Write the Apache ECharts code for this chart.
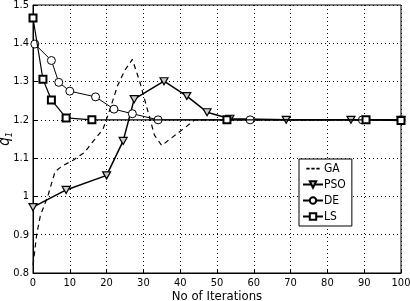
<!DOCTYPE html>
<html>
<head>
<meta charset="utf-8">
<script src="https://cdn.jsdelivr.net/npm/echarts@6/dist/echarts.min.js"></script>
<style>
  html, body { margin: 0; padding: 0; background: #fff; }
  #chart { width: 410px; height: 301px; }
</style>
</head>
<body>
<div id="chart"></div>
<script>
// 数据
const gaX = [0, 1, 2, 4, 6, 8, 11, 14, 16, 19, 21, 23, 25, 27, 29, 31, 33, 35, 37, 40, 44, 100];
const gaY = [0.82, 0.9, 0.95, 1.0, 1.065, 1.08, 1.095, 1.115, 1.14, 1.175, 1.23, 1.29, 1.33, 1.358, 1.3, 1.23, 1.16, 1.133, 1.148, 1.17, 1.2, 1.2];
const psoX = [0, 9, 20, 24.5, 27.5, 35.6, 41.8, 47.3, 53.5, 68.8, 86.4, 100];
const psoY = [0.972, 1.017, 1.055, 1.145, 1.254, 1.301, 1.262, 1.22, 1.203, 1.2, 1.2, 1.2];
const deX = [0.5, 5, 7, 10, 17, 22, 27, 34, 59, 89.5, 100];
const deY = [1.398, 1.355, 1.298, 1.275, 1.26, 1.228, 1.216, 1.2, 1.2, 1.2, 1.2];
const lsX = [0, 2.7, 5, 9, 16, 52.7, 90.5, 100];
const lsY = [1.466, 1.306, 1.252, 1.205, 1.2, 1.2, 1.2, 1.198];

function pairs(xs, ys) {
  let out = [];
  for (var i = 0; i < xs.length; i++) {
    out.push([xs[i], ys[i]]);
  }
  return out;
}

const font = "'DejaVu Sans Condensed', 'Liberation Sans Narrow', 'Liberation Sans', sans-serif";
const downTri = "path://M0,0 L10,0 L5,9 Z";
const dashIcon = "path://M0,5h5v2.5h-5z M7.5,5h5v2.5h-5z M15,5h5v2.5h-5z M0,0h0.01v0.01h-0.01z M0,12h0.01v0.01h-0.01z";

let myChart = echarts.init(document.getElementById("chart"));
let option = {
  animation: false,
  textStyle: { fontFamily: font },
  grid: {
    left: 33,
    right: 9,
    top: 5,
    bottom: 28,
    outerBoundsMode: "none",
    containLabel: false,
    show: true,
    borderColor: "#000",
    borderWidth: 1
  },
  legend: {
    orient: "vertical",
    left: 299,
    top: 159,
    backgroundColor: "#fff",
    borderColor: "#000",
    borderWidth: 1,
    padding: [3, 6, 3, 3],
    itemGap: 3,
    itemWidth: 20,
    itemHeight: 8,
    textStyle: { fontFamily: font, fontSize: 12, lineHeight: 13, color: "#000", padding: [0, 0, 0, -4] },
    data: [{ name: "GA", icon: dashIcon, itemStyle: { color: "#000" } }, "PSO", "DE", "LS"]
  },
  xAxis: {
    type: "value",
    min: 0,
    max: 100,
    interval: 10,
    name: "No of Iterations",
    nameLocation: "middle",
    nameGap: 17,
    nameMoveOverlap: false,
    nameTextStyle: { fontFamily: font, fontSize: 13, color: "#000" },
    axisLine: { lineStyle: { color: "#000" } },
    axisTick: { inside: true, length: 4, lineStyle: { color: "#000" } },
    axisLabel: { color: "#000", fontSize: 11, margin: 5 },
    splitLine: { show: true, lineStyle: { color: "#000", type: [1, 3], width: 1 } }
  },
  yAxis: {
    type: "value",
    min: 0.8,
    max: 1.5,
    interval: 0.1,
    name: "{q|q}{s|1}",
    nameLocation: "middle",
    nameRotate: 90,
    nameGap: 19,
    nameMoveOverlap: false,
    nameTextStyle: {
      color: "#000",
      rich: {
        q: { fontFamily: font, fontSize: 15, fontStyle: "italic", color: "#000" },
        s: { fontFamily: font, fontSize: 9, fontStyle: "italic", color: "#000", padding: [8, 0, 0, 0] }
      }
    },
    axisLine: { lineStyle: { color: "#000" } },
    axisTick: { inside: true, length: 4, lineStyle: { color: "#000" } },
    axisLabel: {
      color: "#000",
      fontSize: 11,
      margin: 4,
      formatter: function (v) {
        return parseFloat(v.toFixed(1)).toString();
      }
    },
    splitLine: { show: true, lineStyle: { color: "#000", type: [1, 3], width: 1 } }
  },
  series: [
    {
      name: "GA",
      type: "line",
      data: pairs(gaX, gaY),
      showSymbol: false,
      symbol: "none",
      lineStyle: { color: "#000", width: 1.2, type: [5, 4] },
      itemStyle: { color: "#000" },
      z: 2
    },
    {
      name: "PSO",
      type: "line",
      data: pairs(psoX, psoY),
      symbol: downTri,
      symbolSize: [8, 7],
      lineStyle: { color: "#000", width: 1.5 },
      itemStyle: { color: "#ccc", borderColor: "#000", borderWidth: 1.2 },
      z: 3
    },
    {
      name: "DE",
      type: "line",
      data: pairs(deX, deY),
      symbol: "circle",
      symbolSize: 8,
      lineStyle: { color: "#000", width: 1 },
      itemStyle: { color: "#fff", borderColor: "#000", borderWidth: 1 },
      z: 4
    },
    {
      name: "LS",
      type: "line",
      data: pairs(lsX, lsY),
      symbol: "rect",
      symbolSize: 7,
      lineStyle: { color: "#000", width: 1.2 },
      itemStyle: { color: "#fff", borderColor: "#000", borderWidth: 2 },
      z: 5
    }
  ]
};
myChart.setOption(option, true);
window.addEventListener("resize", () => {
  myChart.resize();
});
</script>
</body>
</html>
